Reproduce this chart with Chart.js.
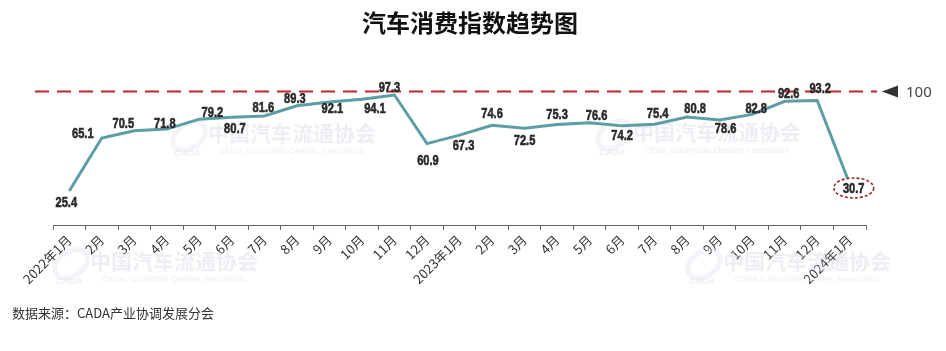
<!DOCTYPE html>
<html>
<head>
<meta charset="utf-8">
<script src="https://cdn.jsdelivr.net/npm/chart.js@4.4.1/dist/chart.umd.min.js"></script>
<style>
  html, body { margin: 0; padding: 0; background: #ffffff; }
  #wrap { width: 946px; height: 351px; position: relative; }
</style>
</head>
<body>
<div id="wrap"><canvas id="c" width="946" height="351"></canvas></div>
<script>
// ---- data ----
const categories = [
  '2022年1月','2月','3月','4月','5月','6月','7月','8月','9月','10月','11月','12月',
  '2023年1月','2月','3月','4月','5月','6月','7月','8月','9月','10月','11月','12月',
  '2024年1月'
];
const indexValues = [
  25.4, 65.1, 70.5, 71.8, 79.2, 80.7, 81.6, 89.3, 92.1, 94.1, 97.3, 60.9,
  67.3, 74.6, 72.5, 75.3, 76.6, 74.2, 75.4, 80.8, 78.6, 82.8, 92.6, 93.2,
  30.7
];
const referenceValue = 100;
const titleText = '汽车消费指数趋势图';
const sourceText = '数据来源：CADA产业协调发展分会';

// ---- label placement (style, relative to each point) ----
const labelOffsets = [
  [-3, 11], [-19, -5], [-11, -8], [-2, -6], [13, -7], [3, 11], [-1, -9], [-2, -8],
  [3, 6], [13, 9], [-5, -8], [1, 16], [4, 10], [0, -12], [0, 12], [0, -11],
  [7, -8], [0, 9], [3, -11], [8, -9], [6, 8], [4, -7], [4, -8], [3, -13],
  [4, 4]
];
const highlightIndex = 24;

const labelFont = "bold 15px 'Liberation Sans', 'Arial', sans-serif";

const decorPlugin = {
  id: 'decor',
  beforeDatasetsDraw(chart) {
    const ctx = chart.ctx;
    ctx.save();
    // faint watermarks
    const marks = [[292, 136], [717, 135], [174, 264], [807, 264]];
    marks.forEach(([cx, cy]) => {
      ctx.fillStyle = 'rgba(214, 218, 228, 0.45)';
      ctx.textAlign = 'center';
      ctx.textBaseline = 'middle';
      ctx.font = "bold 21px 'Liberation Serif', 'Noto Sans CJK SC', serif";
      ctx.fillText('中国汽车流通协会', cx, cy);
      ctx.font = "8.5px 'Liberation Sans', sans-serif";
      ctx.fillText('China Automobile Dealers Association', cx, cy + 16);
      ctx.font = "italic bold 9px 'Liberation Sans', sans-serif";
      ctx.fillText('CADA', cx - 105, cy + 18);
      ctx.beginPath();
      ctx.ellipse(cx - 103, cy, 18, 12, -0.6, 0, Math.PI * 2);
      ctx.strokeStyle = 'rgba(214, 218, 228, 0.3)';
      ctx.lineWidth = 5;
      ctx.stroke();
    });

    // reference dashed line at 100
    const y = chart.scales.y.getPixelForValue(referenceValue);
    ctx.strokeStyle = '#C0272D';
    ctx.lineWidth = 2;
    ctx.setLineDash([14, 8]);
    ctx.beginPath();
    ctx.moveTo(35, y);
    ctx.lineTo(877, y);
    ctx.stroke();
    ctx.setLineDash([]);
    ctx.restore();
  },
  afterDraw(chart) {
    const ctx = chart.ctx;
    ctx.save();
    // title
    ctx.fillStyle = '#111111';
    ctx.font = "bold 24px 'Noto Sans CJK SC', sans-serif";
    ctx.textAlign = 'center';
    ctx.textBaseline = 'middle';
    ctx.fillText(titleText, 470, 23);

    // reference marker
    const y = chart.scales.y.getPixelForValue(referenceValue);
    ctx.fillStyle = '#333333';
    ctx.beginPath();
    ctx.moveTo(882, y);
    ctx.lineTo(898, y - 6);
    ctx.lineTo(898, y + 6);
    ctx.closePath();
    ctx.fill();
    ctx.fillStyle = '#444444';
    ctx.font = "15px 'Noto Sans', 'Liberation Sans', sans-serif";
    ctx.textAlign = 'left';
    ctx.fillText(String(referenceValue), 906, y + 1);

    // data labels
    const meta = chart.getDatasetMeta(0);
    meta.data.forEach((pt, i) => {
      const off = labelOffsets[i] || [0, -10];
      const lx = pt.x + off[0];
      const ly = pt.y + off[1];
      if (i === highlightIndex) {
        ctx.fillStyle = '#ffffff';
        ctx.beginPath();
        ctx.ellipse(lx, ly, 20, 10, 0, 0, Math.PI * 2);
        ctx.fill();
        ctx.strokeStyle = '#A0282D';
        ctx.lineWidth = 1.6;
        ctx.setLineDash([3, 2]);
        ctx.stroke();
        ctx.setLineDash([]);
      }
      ctx.save();
      ctx.translate(lx, ly + 1);
      ctx.scale(0.74, 1);
      ctx.font = labelFont;
      ctx.textAlign = 'center';
      ctx.textBaseline = 'middle';
      ctx.fillStyle = '#2a2a2a';
      ctx.strokeStyle = '#2a2a2a';
      ctx.lineWidth = 0.6;
      const t = indexValues[i].toFixed(1);
      ctx.fillText(t, 0, 0);
      ctx.strokeText(t, 0, 0);
      ctx.restore();
    });

    // source
    ctx.fillStyle = '#333333';
    ctx.font = "13px 'Noto Sans CJK SC', sans-serif";
    ctx.textAlign = 'left';
    ctx.textBaseline = 'middle';
    ctx.fillText(sourceText, 12, 313);
    ctx.restore();
  }
};

new Chart(document.getElementById('c'), {
  type: 'line',
  data: {
    labels: categories,
    datasets: [{
      data: indexValues,
      borderColor: '#5B9EA6',
      borderWidth: 3,
      pointRadius: 0,
      pointHoverRadius: 0,
      tension: 0,
      fill: false,
      clip: false
    }]
  },
  options: {
    responsive: false,
    animation: false,
    devicePixelRatio: 1,
    layout: { padding: { left: 53, right: 80, top: 91.4, bottom: 0 } },
    plugins: { legend: { display: false }, tooltip: { enabled: false }, title: { display: false } },
    scales: {
      y: { display: false, min: 0, max: 100 },
      x: {
        offset: true,
        afterFit(scale) { scale.height = 126; scale.paddingLeft = 0; scale.paddingRight = 0; },
        border: { display: true, color: '#666666', width: 1 },
        grid: { offset: true, drawOnChartArea: false, drawTicks: true, tickLength: 5, color: '#666666' },
        ticks: {
          autoSkip: false,
          minRotation: 45,
          maxRotation: 45,
          padding: 2,
          color: '#333333',
          font: { family: "'Noto Sans CJK SC', sans-serif", size: 13 }
        }
      }
    }
  },
  plugins: [decorPlugin]
});
</script>
</body>
</html>
